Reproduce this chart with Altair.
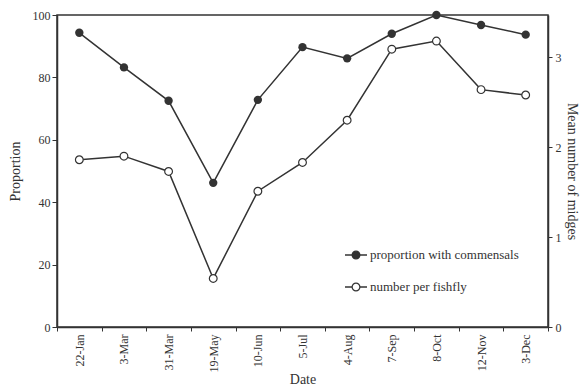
import altair as alt
import pandas as pd

# Sampling dates and the two measured series
dates = ["22-Jan", "3-Mar", "31-Mar", "19-May", "10-Jun", "5-Jul",
         "4-Aug", "7-Sep", "8-Oct", "12-Nov", "3-Dec"]
proportion = [94.3, 83.2, 72.5, 46.2, 72.8, 89.7, 86.1, 94.0, 100.0, 96.8, 93.7]
midges = [1.86, 1.90, 1.73, 0.54, 1.51, 1.83, 2.30, 3.09, 3.18, 2.64, 2.58]

legend_labels = ["proportion with commensals", "number per fishfly"]

df = pd.DataFrame({"date": dates, "proportion": proportion, "midges": midges})

INK = "#333333"
FONT = "Liberation Serif"

x_enc = alt.X(
    "date:N",
    sort=dates,
    title="Date",
    scale=alt.Scale(type="band", paddingInner=0, paddingOuter=0),
    axis=alt.Axis(
        labelAngle=270, labelAlign="right", labelBaseline="middle",
        tickBand="extent", tickSize=4, labelPadding=3, titlePadding=1,
        labelFontSize=12, titleFontSize=14,
    ),
)

base = alt.Chart(df)

# Left axis: proportion with commensals (filled circles)
y_left = alt.Y(
    "proportion:Q",
    title="Proportion",
    scale=alt.Scale(domain=[0, 100], nice=False),
    axis=alt.Axis(values=[0, 20, 40, 60, 80, 100], tickSize=5, labelPadding=2,
                  titlePadding=10, labelFontSize=12, titleFontSize=14),
)
left_line = base.mark_line(color=INK, strokeWidth=1.5).encode(x=x_enc, y=y_left)
left_pts = base.mark_point(filled=True, color=INK, size=70, opacity=1).encode(x=x_enc, y=y_left)
left = alt.layer(left_line, left_pts)

# Right axis: mean number of midges per fishfly (open circles)
y_right = alt.Y(
    "midges:Q",
    title="Mean number of midges",
    scale=alt.Scale(domain=[0, 3.47], nice=False),
    axis=alt.Axis(orient="right", values=[0, 1, 2, 3], tickSize=4, labelPadding=3,
                  titlePadding=3, titleAngle=90, labelFontSize=12, titleFontSize=14),
)
right_line = base.mark_line(color=INK, strokeWidth=1.5).encode(x=x_enc, y=y_right)
right_pts = base.mark_point(filled=True, fill="white", stroke=INK, strokeWidth=1.2,
                            size=60, opacity=1).encode(x=x_enc, y=y_right)
right = alt.layer(right_line, right_pts)

# Hand-drawn legend inside the plot area
one = alt.Chart(alt.Data(values=[{}]))
legend_layers = []
for i, (lab, fill) in enumerate(zip(legend_labels, [INK, "white"])):
    yy = 240 + i * 32
    legend_layers.append(one.mark_rule(color=INK, strokeWidth=1.5).encode(
        x=alt.value(288), x2=alt.value(310), y=alt.value(yy)))
    legend_layers.append(one.mark_point(filled=True, fill=fill, stroke=INK, strokeWidth=1.2,
                                        size=60, opacity=1).encode(
        x=alt.value(299), y=alt.value(yy)))
    legend_layers.append(one.mark_text(align="left", baseline="middle", font=FONT,
                                       fontSize=13, color=INK).encode(
        x=alt.value(313), y=alt.value(yy), text=alt.value(lab)))
legend = alt.layer(*legend_layers)

chart = (
    alt.layer(left, right, legend)
    .resolve_scale(y="independent")
    .properties(
        width=491, height=312,
        autosize=alt.AutoSizeParams(type="none"),
        padding={"left": 57, "top": 15, "right": 34, "bottom": 62},
        background="white",
    )
    .configure_view(stroke=INK, strokeWidth=1.5)
    .configure_axis(
        grid=False, domainColor=INK, domainWidth=1.5, tickColor=INK, tickWidth=1,
        labelColor=INK, titleColor=INK, labelFont=FONT, titleFont=FONT,
        titleFontWeight="normal",
    )
)

chart.save("out.html", embed_options={"renderer": "svg", "actions": False})
